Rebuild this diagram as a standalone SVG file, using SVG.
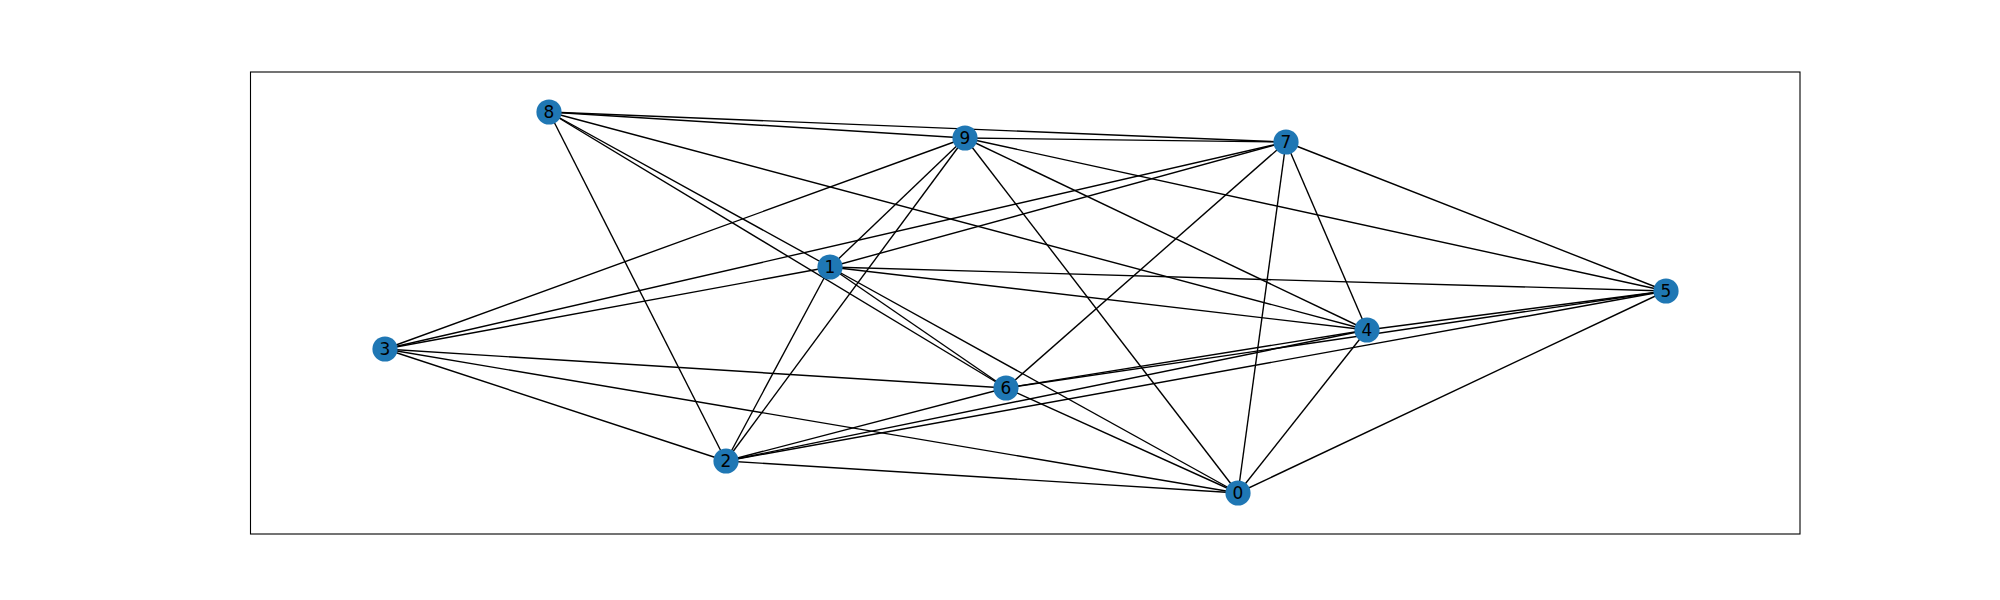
<svg xmlns="http://www.w3.org/2000/svg" width="2000" height="600" viewBox="0 0 2000 600">
<style>
.e{stroke:#000;stroke-width:1.4;fill:none}
.n circle{fill:#1f77b4}
.n text{font-family:"DejaVu Sans",sans-serif;font-size:17px;text-anchor:middle;dominant-baseline:central;fill:#000}
</style>
<rect x="0" y="0" width="2000" height="600" fill="#fff"/>
<rect x="250.5" y="72" width="1549.5" height="462" fill="none" stroke="#000" stroke-width="1.1"/>
<g id="edges">
<line class="e" x1="549" y1="112" x2="965" y2="138"/>
<line class="e" x1="549" y1="112" x2="1286" y2="142"/>
<line class="e" x1="549" y1="112" x2="830" y2="267"/>
<line class="e" x1="549" y1="112" x2="1006" y2="388"/>
<line class="e" x1="549" y1="112" x2="1367" y2="330"/>
<line class="e" x1="549" y1="112" x2="726" y2="461"/>
<line class="e" x1="965" y1="138" x2="1286" y2="142"/>
<line class="e" x1="965" y1="138" x2="385" y2="349"/>
<line class="e" x1="965" y1="138" x2="830" y2="267"/>
<line class="e" x1="965" y1="138" x2="726" y2="461"/>
<line class="e" x1="965" y1="138" x2="1238" y2="493"/>
<line class="e" x1="965" y1="138" x2="1367" y2="330"/>
<line class="e" x1="965" y1="138" x2="1666" y2="291"/>
<line class="e" x1="1286" y1="142" x2="385" y2="349"/>
<line class="e" x1="1286" y1="142" x2="830" y2="267"/>
<line class="e" x1="1286" y1="142" x2="1006" y2="388"/>
<line class="e" x1="1286" y1="142" x2="1238" y2="493"/>
<line class="e" x1="1286" y1="142" x2="1367" y2="330"/>
<line class="e" x1="1286" y1="142" x2="1666" y2="291"/>
<line class="e" x1="830" y1="267" x2="385" y2="349"/>
<line class="e" x1="830" y1="267" x2="1666" y2="291"/>
<line class="e" x1="830" y1="267" x2="1367" y2="330"/>
<line class="e" x1="830" y1="267" x2="1006" y2="388"/>
<line class="e" x1="830" y1="267" x2="1238" y2="493"/>
<line class="e" x1="830" y1="267" x2="726" y2="461"/>
<line class="e" x1="1666" y1="291" x2="1367" y2="330"/>
<line class="e" x1="1666" y1="291" x2="1006" y2="388"/>
<line class="e" x1="1666" y1="291" x2="726" y2="461"/>
<line class="e" x1="1666" y1="291" x2="1238" y2="493"/>
<line class="e" x1="1367" y1="330" x2="1006" y2="388"/>
<line class="e" x1="1367" y1="330" x2="726" y2="461"/>
<line class="e" x1="1367" y1="330" x2="1238" y2="493"/>
<line class="e" x1="385" y1="349" x2="1006" y2="388"/>
<line class="e" x1="385" y1="349" x2="1238" y2="493"/>
<line class="e" x1="385" y1="349" x2="726" y2="461"/>
<line class="e" x1="1006" y1="388" x2="726" y2="461"/>
<line class="e" x1="1006" y1="388" x2="1238" y2="493"/>
<line class="e" x1="726" y1="461" x2="1238" y2="493"/>
</g>
<g id="node0" class="n"><circle cx="1238" cy="493" r="12.6"/><text x="1238" y="493">0</text></g>
<g id="node1" class="n"><circle cx="830" cy="267" r="12.6"/><text x="830" y="267">1</text></g>
<g id="node2" class="n"><circle cx="726" cy="461" r="12.6"/><text x="726" y="461">2</text></g>
<g id="node3" class="n"><circle cx="385" cy="349" r="12.6"/><text x="385" y="349">3</text></g>
<g id="node4" class="n"><circle cx="1367" cy="330" r="12.6"/><text x="1367" y="330">4</text></g>
<g id="node5" class="n"><circle cx="1666" cy="291" r="12.6"/><text x="1666" y="291">5</text></g>
<g id="node6" class="n"><circle cx="1006" cy="388" r="12.6"/><text x="1006" y="388">6</text></g>
<g id="node7" class="n"><circle cx="1286" cy="142" r="12.6"/><text x="1286" y="142">7</text></g>
<g id="node8" class="n"><circle cx="549" cy="112" r="12.6"/><text x="549" y="112">8</text></g>
<g id="node9" class="n"><circle cx="965" cy="138" r="12.6"/><text x="965" y="138">9</text></g>
</svg>
